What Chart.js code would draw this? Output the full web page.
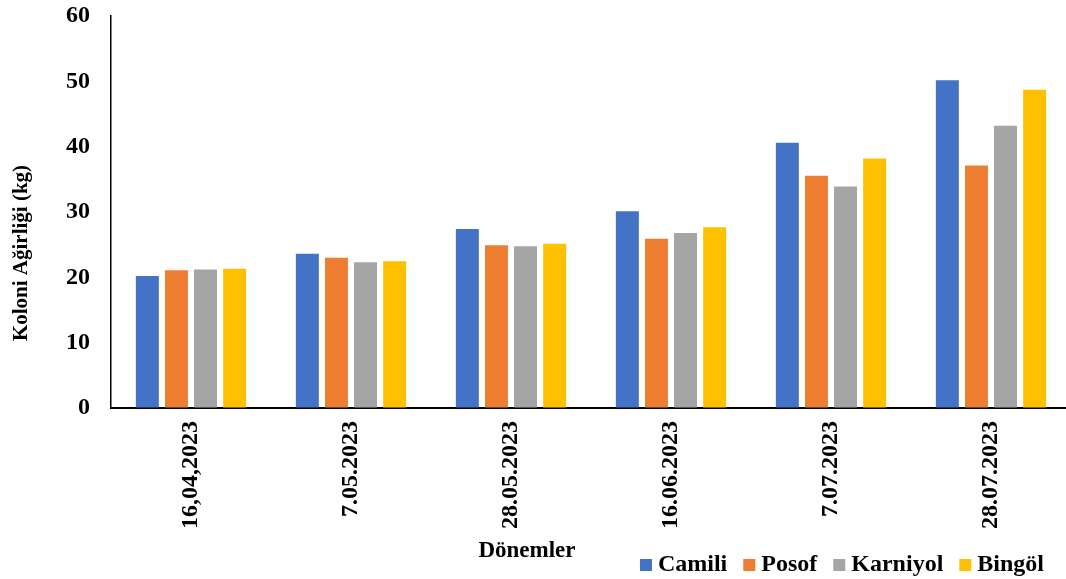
<!DOCTYPE html>
<html>
<head>
<meta charset="utf-8">
<script src="https://cdn.jsdelivr.net/npm/chart.js@4.4.0/dist/chart.umd.min.js"></script>
<style>
html,body{margin:0;padding:0;background:#fff;}
#wrap{width:1066px;height:579px;position:relative;overflow:hidden;}
</style>
</head>
<body>
<div id="wrap"><canvas id="c" width="1066" height="579"></canvas></div>
<script>
const categories = ["16,04,2023", "7.05.2023", "28.05.2023", "16.06.2023", "7.07.2023", "28.07.2023"];
const seriesNames = ["Camili", "Posof", "Karniyol", "Bingöl"];
const camili   = [20.2, 23.6, 27.4, 30.1, 40.6, 50.15];
const posof    = [21.1, 23.0, 24.9, 25.9, 35.55, 37.1];
const karniyol = [21.2, 22.3, 24.75, 26.8, 33.9, 43.2];
const bingol   = [21.3, 22.45, 25.15, 27.65, 38.2, 48.7];
const yTicks = [0, 10, 20, 30, 40, 50, 60];
const xTitle = "Dönemler";
const yTitle = "Koloni Ağirliği (kg)";

const colors = ["#4472C4", "#ED7D31", "#A5A5A5", "#FFC000"];
const FONT = "'Liberation Serif', 'Times New Roman', serif";

const titlePlugin = {
  id: 'titles',
  afterDraw(chart) {
    const ctx = chart.ctx;
    ctx.save();
    ctx.fillStyle = '#000';
    ctx.font = "bold 23px " + FONT;
    ctx.textAlign = 'center';
    ctx.textBaseline = 'middle';
    ctx.fillText(xTitle, 527, 551);
    ctx.translate(22, 253);
    ctx.rotate(-Math.PI / 2);
    ctx.font = "bold 21px " + FONT;
    ctx.fillText(yTitle, 0, 0);
    ctx.restore();
  }
};

// the category axis of the reference runs a little past the right edge of the picture
const extendX = {
  id: 'extendX',
  afterLayout(chart) {
    const s = chart.scales.x;
    s.right = s.left + 960;
    s.width = s.right - s.left;
    s.configure();
  }
};

const datasets = [camili, posof, karniyol, bingol].map((d, i) => ({
  label: seriesNames[i],
  data: d,
  backgroundColor: colors[i],
  borderWidth: 0,
  categoryPercentage: 0.7275,
  barPercentage: 0.79
}));

new Chart(document.getElementById('c'), {
  type: 'bar',
  data: { labels: categories, datasets },
  plugins: [titlePlugin, extendX],
  options: {
    responsive: false,
    animation: false,
    layout: { padding: { left: 0, right: 0, top: 16, bottom: -8 } },
    plugins: {
      tooltip: { enabled: false },
      legend: {
        position: 'bottom',
        align: 'end',
        labels: {
          usePointStyle: true,
          pointStyle: 'rect',
          boxWidth: 0.01,
          boxHeight: 12,
          padding: 22,
          color: '#000',
          font: { family: FONT, size: 24, weight: 'bold' }
        }
      }
    },
    scales: {
      x: {
        grid: { display: false, drawTicks: false },
        border: { display: true, color: '#000', width: 2 },
        ticks: {
          color: '#000',
          maxRotation: 90,
          minRotation: 90,
          padding: 13,
          font: { family: FONT, size: 24, weight: 'bold' }
        },
        afterFit(scale) { scale.height = 123; }
      },
      y: {
        min: 0,
        max: 60,
        afterBuildTicks(scale) { scale.ticks = yTicks.map(v => ({ value: v })); },
        grid: { display: true, drawOnChartArea: false, drawTicks: true, tickLength: 21, color: 'rgba(0,0,0,0)' },
        border: { display: true, color: '#000', width: 1.5 },
        ticks: {
          color: '#000',
          padding: 0,
          font: { family: FONT, size: 24, weight: 'bold' }
        },
        afterFit(scale) { scale.width = 111; }
      }
    }
  }
});
</script>
</body>
</html>
